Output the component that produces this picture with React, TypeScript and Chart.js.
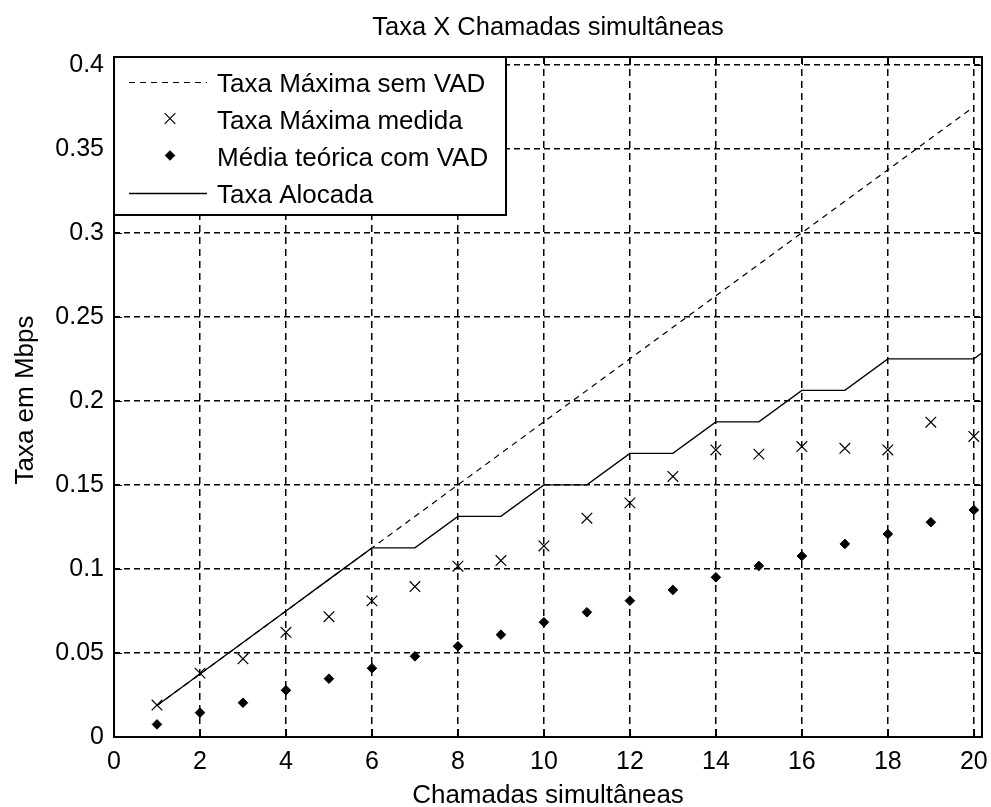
import React, { useEffect, useRef } from "react";
import { Chart, registerables } from "chart.js";

Chart.register(...registerables);

// ---- data ----
const chartTitle = "Taxa X Chamadas simultâneas";
const xAxisLabel = "Chamadas simultâneas";
const yAxisLabel = "Taxa em Mbps";

const calls = [1, 2, 3, 4, 5, 6, 7, 8, 9, 10, 11, 12, 13, 14, 15, 16, 17, 18, 19, 20];
const taxaMaximaSemVAD = [
  0.01875, 0.0375, 0.05625, 0.075, 0.09375, 0.1125, 0.13125, 0.15, 0.16875, 0.1875,
  0.20625, 0.225, 0.24375, 0.2625, 0.28125, 0.3, 0.31875, 0.3375, 0.35625, 0.375,
];
const taxaMaximaMedida = [
  0.019, 0.038, 0.0465, 0.0623, 0.0716, 0.081, 0.0895, 0.1016, 0.105, 0.1137,
  0.1302, 0.1393, 0.155, 0.1708, 0.1683, 0.1728, 0.1718, 0.1708, 0.1873, 0.1788,
];
const mediaTeoricaComVAD = [
  0.0075, 0.0145, 0.0204, 0.0278, 0.0347, 0.0409, 0.048, 0.054, 0.0609, 0.0683,
  0.0742, 0.0811, 0.0875, 0.095, 0.1018, 0.1077, 0.1149, 0.1208, 0.1278, 0.1351,
];
const allocCalls = [1, 2, 3, 4, 5, 6, 7, 8, 9, 10, 11, 12, 13, 14, 15, 16, 17, 18, 19, 20, 21];
const taxaAlocada = [
  0.01875, 0.0375, 0.05625, 0.075, 0.09375, 0.1125, 0.1125, 0.13125, 0.13125, 0.15,
  0.15, 0.16875, 0.16875, 0.1875, 0.1875, 0.20625, 0.20625, 0.225, 0.225, 0.225, 0.24375,
];

const legendLabels = [
  "Taxa Máxima sem VAD",
  "Taxa Máxima medida",
  "Média teórica com VAD",
  "Taxa Alocada",
];

const xTicks = [0, 2, 4, 6, 8, 10, 12, 14, 16, 18, 20];
const yTicks = [0, 0.05, 0.1, 0.15, 0.2, 0.25, 0.3, 0.35, 0.4];
const xMin = 0;
const xMax = 20.19;
const yMin = 0;
const yMax = 0.4046;

const FONT = "'Liberation Sans', Arial, Helvetica, sans-serif";

const toPts = (xs: number[], ys: number[]) => xs.map((x, i) => ({ x, y: ys[i] }));

const fmt = (v: number) => String(parseFloat(v.toFixed(4)));

function drawMarker(
  ctx: CanvasRenderingContext2D,
  style: string,
  x: number,
  y: number,
  r: number,
  bw: number
) {
  ctx.lineWidth = bw;
  ctx.beginPath();
  if (style === "crossRot") {
    const o = Math.cos(Math.PI / 4) * r;
    ctx.moveTo(x - o, y - o);
    ctx.lineTo(x + o, y + o);
    ctx.moveTo(x - o, y + o);
    ctx.lineTo(x + o, y - o);
    ctx.stroke();
  } else if (style === "rectRot") {
    ctx.moveTo(x - r, y);
    ctx.lineTo(x, y - r);
    ctx.lineTo(x + r, y);
    ctx.lineTo(x, y + r);
    ctx.closePath();
    ctx.fill();
    ctx.stroke();
  }
}

const decorPlugin = {
  id: "matlabDecor",
  afterDraw(chart: any) {
    const ctx: CanvasRenderingContext2D = chart.ctx;
    const ca = chart.chartArea;
    const xs = chart.scales.x;
    const ys = chart.scales.y;
    ctx.save();
    ctx.strokeStyle = "#000";
    ctx.fillStyle = "#000";
    ctx.setLineDash([]);

    // inward tick marks on all four sides
    ctx.lineWidth = 1;
    const tl = 8;
    ctx.beginPath();
    xTicks.forEach((v) => {
      const px = Math.round(xs.getPixelForValue(v)) + 0.5;
      ctx.moveTo(px, ca.bottom);
      ctx.lineTo(px, ca.bottom - tl);
      ctx.moveTo(px, ca.top);
      ctx.lineTo(px, ca.top + tl);
    });
    yTicks.forEach((v) => {
      const py = Math.round(ys.getPixelForValue(v)) + 0.5;
      ctx.moveTo(ca.left, py);
      ctx.lineTo(ca.left + tl, py);
      ctx.moveTo(ca.right, py);
      ctx.lineTo(ca.right - tl, py);
    });
    ctx.stroke();

    // axes frame
    ctx.lineWidth = 2;
    ctx.strokeRect(ca.left, ca.top, ca.right - ca.left, ca.bottom - ca.top);

    // legend box (inside top-left)
    const lx = ca.left;
    const ly = ca.top;
    const lw = 392;
    const lh = 158;
    ctx.fillStyle = "#fff";
    ctx.fillRect(lx, ly, lw, lh);
    ctx.strokeStyle = "#000";
    ctx.lineWidth = 2;
    ctx.strokeRect(lx, ly, lw, lh);

    const rowY = [81.5, 118.5, 155.5, 193];
    const sx0 = 129;
    const sx1 = 207;
    const sxm = 170;
    const tx = 217;
    ctx.font = `26px ${FONT}`;
    ctx.textAlign = "left";
    ctx.textBaseline = "alphabetic";
    chart.data.datasets.forEach((ds: any, i: number) => {
      const y = rowY[i];
      ctx.save();
      ctx.strokeStyle = "#000";
      ctx.fillStyle = "#000";
      if (ds.showLine !== false && ds.borderWidth > 0) {
        ctx.lineWidth = ds.borderWidth;
        ctx.setLineDash(ds.borderDash || []);
        ctx.beginPath();
        ctx.moveTo(sx0, Math.round(y) + 0.5);
        ctx.lineTo(sx1, Math.round(y) + 0.5);
        ctx.stroke();
      }
      if (ds.pointRadius > 0) {
        ctx.setLineDash([]);
        drawMarker(ctx, ds.pointStyle, sxm, y, ds.pointRadius, ds.pointBorderWidth);
      }
      ctx.restore();
      ctx.fillStyle = "#000";
      ctx.fillText(legendLabels[i], tx, y + 10);
    });

    // title
    ctx.fillStyle = "#000";
    ctx.font = `25.5px ${FONT}`;
    ctx.textAlign = "center";
    ctx.textBaseline = "alphabetic";
    ctx.fillText(chartTitle, (ca.left + ca.right) / 2, 35);

    // x label
    ctx.font = `26px ${FONT}`;
    ctx.fillText(xAxisLabel, (ca.left + ca.right) / 2, 803);

    // y label
    ctx.save();
    ctx.translate(33, 400);
    ctx.rotate(-Math.PI / 2);
    ctx.textAlign = "center";
    ctx.fillText(yAxisLabel, 0, 0);
    ctx.restore();

    ctx.restore();
  },
};

export default function App() {
  const canvasRef = useRef<HTMLCanvasElement | null>(null);

  useEffect(() => {
    const canvas = canvasRef.current;
    if (!canvas) return;
    const chart = new Chart(canvas, {
      type: "scatter",
      data: {
        datasets: [
          {
            label: legendLabels[0],
            data: toPts(calls, taxaMaximaSemVAD),
            showLine: true,
            borderColor: "#000",
            borderWidth: 1.2,
            borderDash: [6, 5],
            pointRadius: 0,
            pointHoverRadius: 0,
            pointStyle: "circle",
            pointBorderWidth: 0,
            tension: 0,
            fill: false,
            clip: 0,
          },
          {
            label: legendLabels[1],
            data: toPts(calls, taxaMaximaMedida),
            showLine: false,
            borderColor: "#000",
            backgroundColor: "#000",
            borderWidth: 0,
            pointStyle: "crossRot",
            pointRadius: 7.5,
            pointHoverRadius: 7.5,
            pointBorderWidth: 1.2,
            pointBorderColor: "#000",
            clip: false,
          },
          {
            label: legendLabels[2],
            data: toPts(calls, mediaTeoricaComVAD),
            showLine: false,
            borderColor: "#000",
            backgroundColor: "#000",
            borderWidth: 0,
            pointStyle: "rectRot",
            pointRadius: 4.8,
            pointHoverRadius: 4.8,
            pointBorderWidth: 1,
            pointBorderColor: "#000",
            pointBackgroundColor: "#000",
            clip: false,
          },
          {
            label: legendLabels[3],
            data: toPts(allocCalls, taxaAlocada),
            showLine: true,
            borderColor: "#000",
            borderWidth: 1.4,
            borderDash: [],
            pointRadius: 0,
            pointHoverRadius: 0,
            pointStyle: "circle",
            pointBorderWidth: 0,
            tension: 0,
            fill: false,
            clip: 0,
          },
        ],
      },
      options: {
        responsive: false,
        animation: false,
        devicePixelRatio: 1,
        events: [],
        layout: { padding: { top: 57, right: 9, bottom: 0, left: 0 } },
        plugins: {
          legend: { display: false },
          title: { display: false },
          tooltip: { enabled: false },
        },
        scales: {
          x: {
            type: "linear",
            position: "bottom",
            min: xMin,
            max: xMax,
            afterBuildTicks: (scale: any) => {
              scale.ticks = xTicks.map((v) => ({ value: v }));
            },
            afterFit: (scale: any) => {
              scale.height = 70;
              scale.paddingLeft = 0;
              scale.paddingRight = 0;
            },
            grid: {
              display: true,
              color: "#000",
              lineWidth: 1.5,
              drawTicks: false,
              drawOnChartArea: true,
            },
            border: { display: false, dash: [7, 5] },
            ticks: {
              color: "#000",
              font: { family: FONT, size: 25 },
              padding: 10,
              maxRotation: 0,
              autoSkip: false,
              callback: (v: any) => fmt(Number(v)),
            },
          },
          y: {
            type: "linear",
            position: "left",
            min: yMin,
            max: yMax,
            afterBuildTicks: (scale: any) => {
              scale.ticks = yTicks.map((v) => ({ value: v }));
            },
            afterFit: (scale: any) => {
              scale.width = 114;
              scale.paddingTop = 0;
              scale.paddingBottom = 0;
            },
            grid: {
              display: true,
              color: "#000",
              lineWidth: 1.5,
              drawTicks: false,
              drawOnChartArea: true,
            },
            border: { display: false, dash: [6, 4] },
            ticks: {
              color: "#000",
              font: { family: FONT, size: 25 },
              padding: 10,
              autoSkip: false,
              callback: (v: any) => fmt(Number(v)),
            },
          },
        },
      },
      plugins: [decorPlugin],
    } as any);
    return () => {
      chart.destroy();
    };
  }, []);

  return (
    <div style={{ position: "absolute", left: 0, top: 0, width: 991, height: 807, background: "#fff" }}>
      <canvas ref={canvasRef} width={991} height={807} style={{ display: "block", width: 991, height: 807 }} />
    </div>
  );
}
